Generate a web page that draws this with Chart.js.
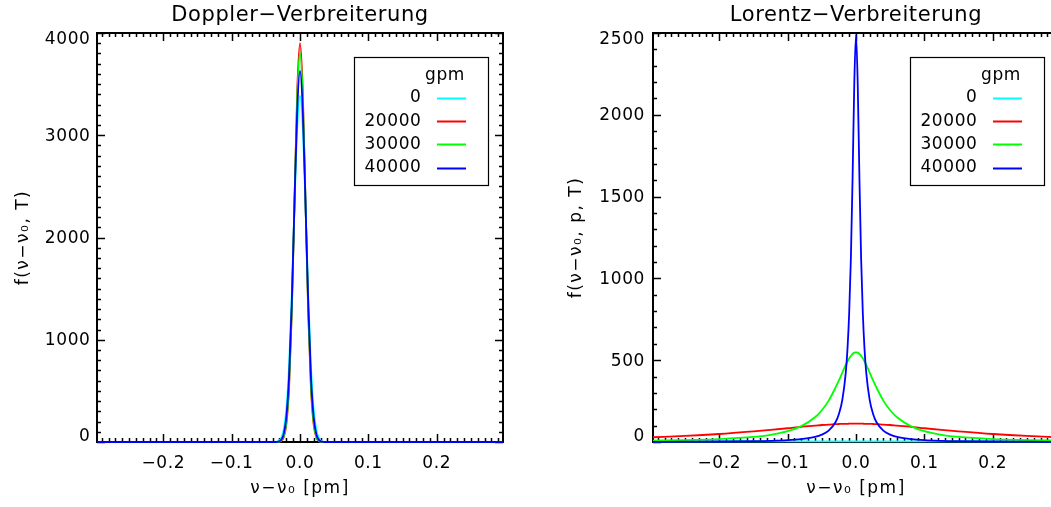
<!DOCTYPE html>
<html>
<head>
<meta charset="utf-8">
<script src="https://cdn.jsdelivr.net/npm/chart.js@4"></script>
<style>
html,body{margin:0;padding:0;background:#fff;overflow:hidden;width:1051px;height:507px;}
#wrap{position:relative;width:1051px;height:507px;overflow:hidden;background:#fff;}
canvas{position:absolute;top:0;}
#c1{left:0;}
#c2{left:540px;}
</style>
</head>
<body>
<div id="wrap">
<canvas id="c1" width="600" height="507"></canvas>
<canvas id="c2" width="632" height="507"></canvas>
</div>
<script>
// ---------- data ----------
const seriesLabels = ['0', '20000', '30000', '40000'];
const seriesColors = ['#00ffff', '#ff0000', '#00ff00', '#0000ff'];
const legendTitle = 'gpm';

const dopplerTitle = 'Doppler\u2212Verbreiterung';
const lorentzTitle = 'Lorentz\u2212Verbreiterung';
const xAxisTitle = '\u03bd\u2212\u03bd\u2080 [pm]';
const dopplerYTitle = 'f(\u03bd\u2212\u03bd\u2080, T)';
const lorentzYTitle = 'f(\u03bd\u2212\u03bd\u2080, p, T)';

const xTickValues = [-0.2, -0.1, 0.0, 0.1, 0.2];
const dopplerYTicks = [0, 1000, 2000, 3000, 4000];
const lorentzYTicks = [0, 500, 1000, 1500, 2000, 2500];

const dopplerX = [-0.297, -0.036, -0.032, -0.028, -0.024, -0.020, -0.016, -0.012, -0.008, -0.004, 0,
                  0.004, 0.008, 0.012, 0.016, 0.020, 0.024, 0.028, 0.032, 0.036, 0.297];
const dopplerCyan  = [0, 2, 8, 33, 113, 319, 746, 1446, 2319, 3080, 3385, 3080, 2319, 1446, 746, 319, 113, 33, 8, 2, 0];
const dopplerRed   = [0, 0, 1, 9, 43, 171, 528, 1266, 2365, 3442, 3900, 3442, 2365, 1266, 528, 171, 43, 9, 1, 0, 0];
const dopplerGreen = [0, 0, 2, 11, 52, 192, 563, 1300, 2362, 3381, 3810, 3381, 2362, 1300, 563, 192, 52, 11, 2, 0, 0];
const dopplerBlue  = [0, 0, 3, 18, 73, 241, 639, 1367, 2352, 3257, 3630, 3257, 2352, 1367, 639, 241, 73, 18, 3, 0, 0];

const lorentzX = [-0.297, -0.25, -0.2, -0.15, -0.125, -0.1, -0.08, -0.06, -0.05, -0.04, -0.03, -0.025, -0.02,
                  -0.015, -0.0125, -0.01, -0.0075, -0.005, -0.0025, 0,
                  0.0025, 0.005, 0.0075, 0.01, 0.0125, 0.015, 0.02, 0.025, 0.03, 0.04, 0.05, 0.06, 0.08,
                  0.1, 0.125, 0.15, 0.2, 0.25, 0.297];
const lorentzCyan  = [4, 4, 4, 4, 4, 4, 4, 4, 4, 4, 4, 4, 4, 4, 4, 4, 4, 4, 4, 4,
                      4, 4, 4, 4, 4, 4, 4, 4, 4, 4, 4, 4, 4, 4, 4, 4, 4, 4, 4];
const lorentzRed   = [29, 37, 49, 65, 74, 84, 93, 100, 104, 106, 109, 110, 111, 111, 111, 112, 112, 112, 112, 112,
                      112, 112, 112, 112, 111, 111, 111, 110, 109, 106, 104, 100, 93, 84, 74, 65, 49, 37, 29];
const lorentzGreen = [8, 12, 18, 31, 44, 66, 97, 151, 194, 253, 332, 376, 424, 471, 492, 511, 526, 538, 546, 548,
                      546, 538, 526, 511, 492, 471, 424, 376, 332, 253, 194, 151, 97, 66, 44, 31, 18, 12, 8];
const lorentzBlue  = [1, 2, 3, 5, 7, 11, 18, 31, 45, 70, 121, 171, 257, 423, 566, 785, 1120, 1613, 2192, 2490,
                      2192, 1613, 1120, 785, 566, 423, 257, 171, 121, 70, 45, 31, 18, 11, 7, 5, 3, 2, 1];

// ---------- helpers ----------
const FONT = '"DejaVu Sans", Verdana, sans-serif';
const SPACING = '0.6px';
const AXIS_TITLE_SPACING = '1.5px';

function fmtX(v) {
  if (Math.abs(v) < 1e-9) return '0.0';
  return (v < 0 ? '\u2212' : '') + Math.abs(v).toFixed(1);
}

// first/last y labels are nudged inside the frame (as in the original)
function fmtY(v, i, ticks) {
  const s = String(v);
  if (i === ticks.length - 1) return ['', s];
  if (i === 0) return [s, ''];
  return s;
}

function makeDatasets(xs, seriesList) {
  return seriesList.map((vals, i) => ({
    label: seriesLabels[i],
    data: xs.map((xv, k) => ({ x: xv, y: vals[k] })),
    borderColor: seriesColors[i],
    backgroundColor: seriesColors[i],
    borderWidth: 1.8,
    pointRadius: 0,
    pointHoverRadius: 0,
    fill: false,
    cubicInterpolationMode: 'monotone',
    clip: false,
    order: seriesList.length - i
  }));
}

const spacingPlugin = {
  id: 'spacing',
  beforeUpdate(c) { c.ctx.letterSpacing = SPACING; },
  beforeLayout(c) { c.ctx.letterSpacing = SPACING; },
  afterLayout(c) {
    Object.values(c.scales).forEach(s => {
      if (!s._lsPatched && typeof s.drawTitle === 'function') {
        const orig = s.drawTitle;
        s.drawTitle = function (...args) {
          const ctx = this.ctx;
          const prev = ctx.letterSpacing;
          ctx.letterSpacing = AXIS_TITLE_SPACING;
          orig.apply(this, args);
          ctx.letterSpacing = prev;
        };
        s._lsPatched = true;
      }
    });
  },
  beforeDraw(c) { c.ctx.letterSpacing = SPACING; }
};

const framePlugin = {
  id: 'frame',
  beforeDatasetsDraw(chart, args, o) {
    const { ctx, chartArea: a, scales } = chart;
    const x = scales.x, y = scales.y;
    ctx.save();
    ctx.strokeStyle = '#000';
    ctx.lineWidth = 1.5;
    ctx.lineCap = 'butt';
    ctx.beginPath();
    const kx0 = Math.ceil(x.min / o.xMinor - 1e-6), kx1 = Math.floor(x.max / o.xMinor + 1e-6);
    for (let k = kx0; k <= kx1; k++) {
      const px = Math.round(x.getPixelForValue(k * o.xMinor)) + 0.5;
      const len = (k % o.xRatio === 0) ? o.major : o.minor;
      ctx.moveTo(px, a.bottom); ctx.lineTo(px, a.bottom - len);
      ctx.moveTo(px, a.top); ctx.lineTo(px, a.top + len);
    }
    const ky0 = Math.ceil(y.min / o.yMinor - 1e-6), ky1 = Math.floor(y.max / o.yMinor + 1e-6);
    for (let k = ky0; k <= ky1; k++) {
      const py = Math.round(y.getPixelForValue(k * o.yMinor)) + 0.5;
      const len = (k % o.yRatio === 0) ? o.major : o.minor;
      ctx.moveTo(a.left, py); ctx.lineTo(a.left + len, py);
      ctx.moveTo(a.right, py); ctx.lineTo(a.right - len, py);
    }
    ctx.stroke();
    ctx.lineWidth = 2;
    ctx.strokeRect(a.left, a.top, a.right - a.left, a.bottom - a.top);
    ctx.restore();
  }
};

const boxLegendPlugin = {
  id: 'boxLegend',
  afterDatasetsDraw(chart, args, o) {
    const { ctx, chartArea: a } = chart;
    const L = a.left + o.dx, T = a.top + o.dy;
    ctx.save();
    ctx.letterSpacing = SPACING;
    ctx.fillStyle = '#fff';
    ctx.fillRect(L, T, o.w, o.h);
    ctx.strokeStyle = '#000';
    ctx.lineWidth = 1.2;
    ctx.strokeRect(L + 0.5, T + 0.5, o.w, o.h);
    ctx.font = '17px ' + FONT;
    ctx.fillStyle = '#000';
    ctx.textBaseline = 'middle';
    ctx.textAlign = 'center';
    ctx.fillText(o.title, L + 91, T + 19);
    ctx.textAlign = 'right';
    chart.data.datasets.forEach((ds, i) => {
      const yy = T + 41 + i * 23.2;
      ctx.fillStyle = '#000';
      ctx.fillText(ds.label, L + 67.5, yy);
      ctx.strokeStyle = ds.borderColor;
      ctx.lineWidth = 2;
      ctx.beginPath();
      ctx.moveTo(L + 83, Math.round(yy) + 0.5);
      ctx.lineTo(L + 112, Math.round(yy) + 0.5);
      ctx.stroke();
    });
    ctx.restore();
  }
};

function makeChart(id, cfg) {
  return new Chart(document.getElementById(id), {
    type: 'line',
    data: { datasets: makeDatasets(cfg.xs, cfg.series) },
    plugins: [spacingPlugin, framePlugin, boxLegendPlugin],
    options: {
      responsive: false,
      animation: false,
      devicePixelRatio: 1,
      events: [],
      layout: { padding: { left: 0, right: 0, top: 0, bottom: 0 } },
      plugins: {
        legend: { display: false },
        tooltip: { enabled: false },
        title: {
          display: true,
          text: cfg.title,
          color: '#000',
          font: { family: FONT, size: 21, weight: 'normal' },
          padding: { top: 3, bottom: 4.8 }
        },
        frame: { xMinor: 0.01, xRatio: 10, yMinor: cfg.yMinor, yRatio: cfg.yRatio, major: 8, minor: 4 },
        boxLegend: { dx: 257, dy: 24, w: 134, h: 128, title: legendTitle }
      },
      scales: {
        x: {
          type: 'linear',
          min: -0.297,
          max: 0.297,
          afterFit(s) { s.height = 65; },
          afterBuildTicks(s) { s.ticks = xTickValues.map(v => ({ value: v })); },
          grid: { display: false, drawTicks: false },
          border: { display: false },
          ticks: {
            padding: 11,
            color: '#000',
            font: { family: FONT, size: 17 },
            maxRotation: 0,
            autoSkip: false,
            callback: fmtX
          },
          title: {
            display: true,
            text: xAxisTitle,
            color: '#000',
            font: { family: FONT, size: 17 },
            padding: { top: 0, bottom: 8 }
          }
        },
        y: {
          type: 'linear',
          position: 'left',
          min: 0,
          max: cfg.yMax,
          afterFit(s) { s.width = cfg.yWidth; },
          afterBuildTicks(s) { s.ticks = cfg.yTicks.map(v => ({ value: v })); },
          grid: { display: false, drawTicks: false },
          border: { display: false },
          ticks: {
            padding: cfg.yPad,
            color: '#000',
            font: { family: FONT, size: 17, lineHeight: '12px' },
            labelOffset: 1,
            autoSkip: false,
            callback: fmtY
          },
          title: {
            display: true,
            text: cfg.yTitle,
            color: '#000',
            font: { family: FONT, size: 17 },
            padding: { top: cfg.yTitlePad, bottom: 0 }
          }
        },
        // empty right-hand spacer so the title is centred over the plot
        yRight: {
          type: 'linear',
          position: 'right',
          display: true,
          min: 0,
          max: cfg.yMax,
          afterFit(s) { s.width = cfg.yWidth; },
          grid: { display: false, drawTicks: false },
          border: { display: false },
          ticks: { display: false },
          title: { display: false }
        }
      }
    }
  });
}

makeChart('c1', {
  xs: dopplerX,
  series: [dopplerCyan, dopplerRed, dopplerGreen, dopplerBlue],
  title: dopplerTitle,
  yTitle: dopplerYTitle,
  yMax: 4000,
  yTicks: dopplerYTicks,
  yMinor: 100, yRatio: 10,
  yWidth: 97, yPad: 6.5, yTitlePad: 13.5
});

makeChart('c2', {
  xs: lorentzX,
  series: [lorentzCyan, lorentzRed, lorentzGreen, lorentzBlue],
  title: lorentzTitle,
  yTitle: lorentzYTitle,
  yMax: 2500,
  yTicks: lorentzYTicks,
  yMinor: 100, yRatio: 5,
  yWidth: 113, yPad: 8, yTitlePad: 26
});
</script>
</body>
</html>
